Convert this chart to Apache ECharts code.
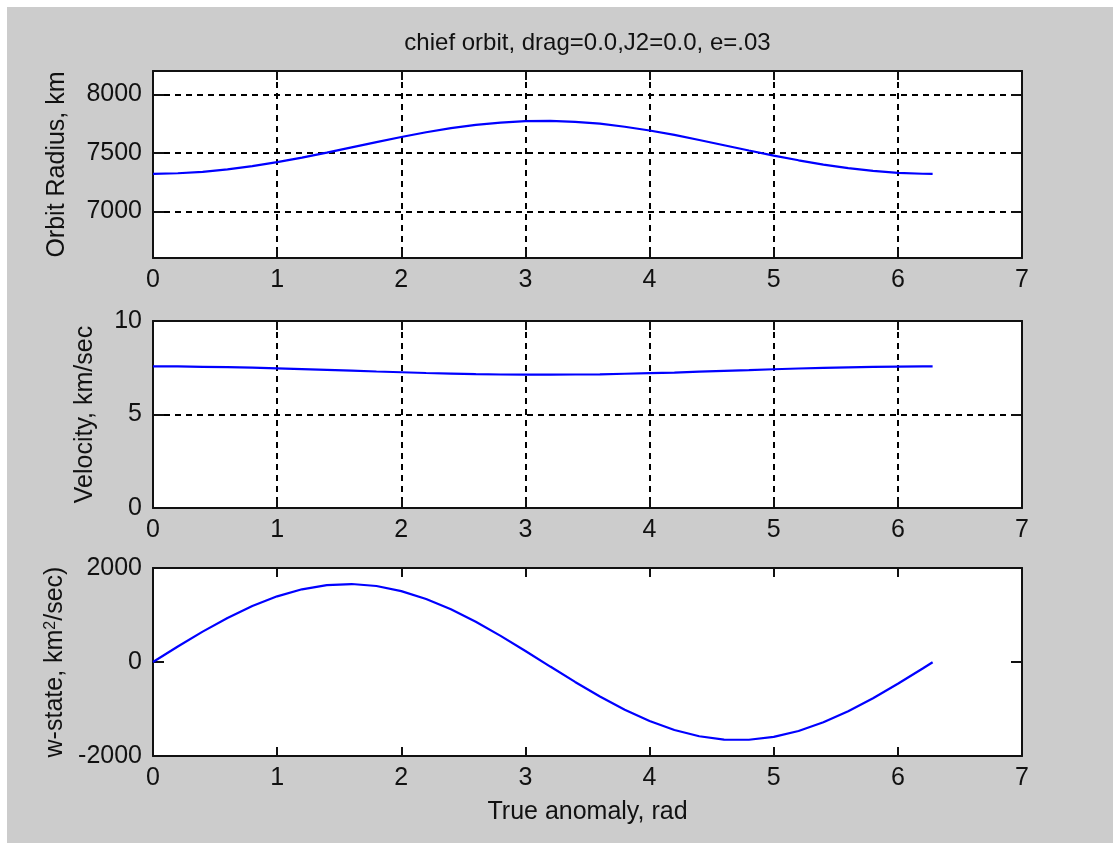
<!DOCTYPE html>
<html>
<head>
<meta charset="utf-8">
<title>chief orbit</title>
<script src="https://cdn.jsdelivr.net/npm/echarts@6/dist/echarts.min.js"></script>
<style>
  html, body { margin: 0; padding: 0; background: #ffffff; width: 1113px; height: 843px; overflow: hidden; }
  #fig { position: absolute; left: 7px; top: 7px; width: 1106px; height: 836px; }
</style>
</head>
<body>
<div id="fig"></div>
<script>
// True anomaly samples (rad) over one revolution
const anomaly = [0, 0.2, 0.4, 0.6, 0.8, 1.0, 1.2, 1.4, 1.6, 1.8, 2.0, 2.2, 2.4, 2.6, 2.8, 3.0,
  3.2, 3.4, 3.6, 3.8, 4.0, 4.2, 4.4, 4.6, 4.8, 5.0, 5.2, 5.4, 5.6, 5.8, 6.0, 6.2, 6.28];

// Orbit radius, km
const radius = [7320, 7325, 7337, 7358, 7386, 7420, 7459, 7502, 7547, 7592, 7635, 7676, 7711,
  7739, 7759, 7771, 7773, 7765, 7749, 7723, 7691, 7653, 7610, 7565, 7520, 7476, 7436, 7399,
  7369, 7345, 7329, 7321, 7320];

// Velocity, km/sec
const velocity = [7.57, 7.57, 7.55, 7.53, 7.51, 7.47, 7.43, 7.39, 7.35, 7.30, 7.26, 7.22, 7.19,
  7.16, 7.14, 7.13, 7.13, 7.14, 7.15, 7.18, 7.21, 7.24, 7.29, 7.33, 7.37, 7.42, 7.46, 7.49,
  7.52, 7.55, 7.56, 7.57, 7.57];

// w-state, km^2/sec
const wState = [0, 330, 646, 937, 1191, 1397, 1547, 1636, 1659, 1617, 1509, 1342, 1121, 856,
  556, 234, -97, -424, -735, -1016, -1256, -1447, -1580, -1650, -1654, -1592, -1467, -1283,
  -1048, -771, -464, -138, -5];

// Tick values
const radiusTicks = [7000, 7500, 8000];

const titleText = 'chief orbit, drag=0.0,J2=0.0, e=.03';
const xName = 'True anomaly, rad';

const ink = '#111111';
const font = '"Liberation Sans", Arial, sans-serif';
const fs = 25;
const gridDash = { color: '#000000', type: [6, 5], width: 2 };
const plain = v => String(v);

const grids = [
  { left: 146, top: 64, width: 869, height: 187 },
  { left: 146, top: 314, width: 869, height: 187 },
  { left: 146, top: 561, width: 869, height: 188 }
].map(g => Object.assign({ show: true, backgroundColor: '#ffffff', borderWidth: 0 }, g));

function boxLine() {
  return { show: true, onZero: false, lineStyle: { color: ink, width: 2 } };
}

// Bottom x axis with labels plus a mirrored top x axis for the boxed frame
function makeXAxes(gridIndex, grid, name) {
  const base = { type: 'value', gridIndex, min: 0, max: 7, interval: 1 };
  return [
    Object.assign({}, base, {
      position: 'bottom',
      axisLine: boxLine(),
      axisTick: { show: true, inside: true, length: 9, lineStyle: { color: ink, width: 2 } },
      axisLabel: { color: ink, fontSize: fs, fontFamily: font, margin: 10, formatter: plain },
      splitLine: { show: grid, lineStyle: gridDash },
      name: name || '',
      nameLocation: 'middle',
      nameGap: 44,
      nameTextStyle: { color: ink, fontSize: fs, fontFamily: font }
    }),
    Object.assign({}, base, {
      position: 'top',
      axisLine: boxLine(),
      axisTick: { show: true, inside: true, length: 9, lineStyle: { color: ink, width: 2 } },
      axisLabel: { show: false },
      splitLine: { show: false }
    })
  ];
}

// Left y axis with labels plus a mirrored right y axis
function makeYAxes(gridIndex, range, grid, name, nameGap, custom, rich) {
  const base = { type: 'value', gridIndex, min: range.min, max: range.max };
  if (range.interval) base.interval = range.interval;
  const tick = { show: true, inside: true, length: 11, lineStyle: { color: ink, width: 2 } };
  const label = { color: ink, fontSize: fs, fontFamily: font, margin: 11, formatter: plain };
  if (custom) {
    tick.customValues = custom;
    label.customValues = custom;
  }
  return [
    Object.assign({}, base, {
      position: 'left',
      axisLine: boxLine(),
      axisTick: tick,
      axisLabel: label,
      splitLine: { show: grid, lineStyle: gridDash },
      name,
      nameLocation: 'middle',
      nameGap,
      nameTextStyle: Object.assign({ color: ink, fontSize: fs, fontFamily: font }, rich ? { rich } : {})
    }),
    Object.assign({}, base, {
      position: 'right',
      axisLine: boxLine(),
      axisTick: Object.assign({}, tick),
      axisLabel: { show: false, customValues: custom || undefined },
      splitLine: { show: false }
    })
  ];
}

const xAxis = [].concat(
  makeXAxes(0, true),
  makeXAxes(1, true),
  makeXAxes(2, false, xName)
);

const yAxis = [].concat(
  makeYAxes(0, { min: 6600, max: 8200 }, true, 'Orbit Radius, km', 83, radiusTicks),
  makeYAxes(1, { min: 0, max: 10, interval: 5 }, true, 'Velocity, km/sec', 55),
  makeYAxes(2, { min: -2000, max: 2000, interval: 2000 }, false,
    'w-state, km{sup|2}/sec)', 85,
    null,
    { sup: { fontSize: 16, fontFamily: font, color: ink, verticalAlign: 'top' } })
);

function lineSeries(values, idx) {
  return {
    type: 'line',
    xAxisIndex: idx * 2,
    yAxisIndex: idx * 2,
    data: anomaly.map((x, i) => [x, values[i]]),
    showSymbol: false,
    symbol: 'none',
    silent: true,
    lineStyle: { color: '#0000ff', width: 2.2 },
    itemStyle: { color: '#0000ff' },
    z: 5
  };
}

const chart = echarts.init(document.getElementById('fig'), null, { renderer: 'canvas' });
chart.setOption({
  backgroundColor: '#cccccc',
  animation: false,
  grid: grids,
  xAxis,
  yAxis,
  graphic: [{
    type: 'text',
    x: 580.5,
    y: 36,
    style: {
      text: titleText,
      fill: ink,
      font: fs - 1 + 'px ' + font,
      textAlign: 'center',
      textVerticalAlign: 'middle'
    }
  }],
  series: [
    lineSeries(radius, 0),
    lineSeries(velocity, 1),
    lineSeries(wState, 2)
  ]
});
</script>
</body>
</html>
